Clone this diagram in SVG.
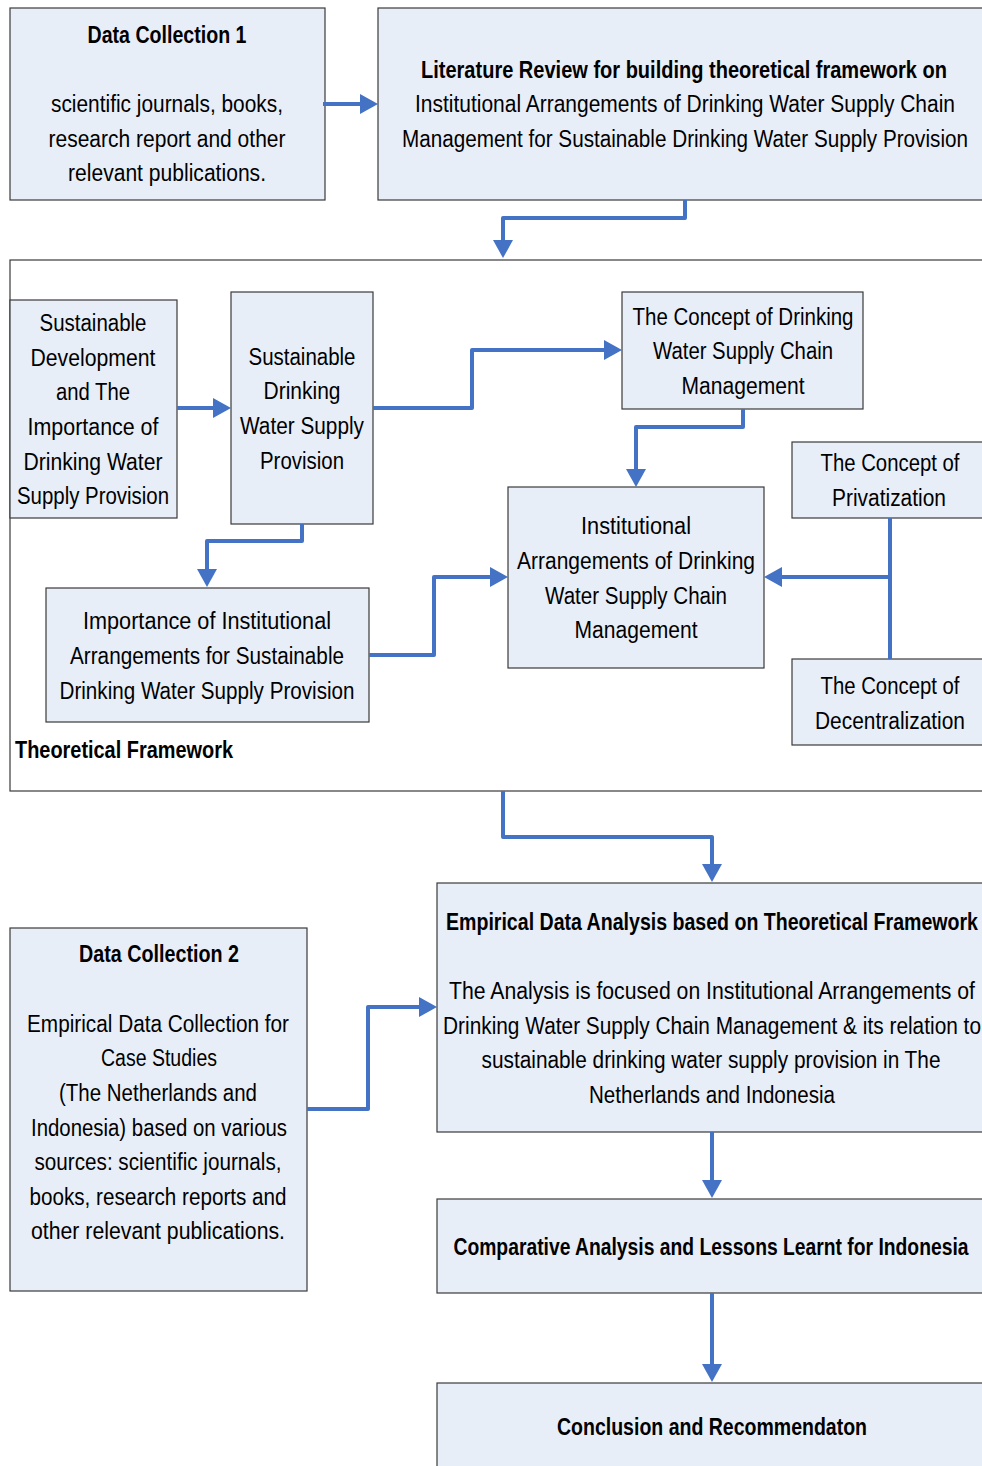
<svg xmlns="http://www.w3.org/2000/svg" width="982" height="1466" viewBox="0 0 982 1466">
  <style>
    .box { fill: #e8eef8; stroke: #3a3a3a; stroke-width: 1.2; }
    .frame { fill: #ffffff; stroke: #3a3a3a; stroke-width: 1.2; }
    .t { font-family: "Liberation Sans", Arial, sans-serif; font-size: 23px; fill: #000; text-anchor: middle; }
    .b { font-weight: bold; }
    .l { text-anchor: start; }
    .conn { fill: none; stroke: #4472c4; stroke-width: 4; stroke-linejoin: round; marker-end: url(#head); }
    .line { fill: none; stroke: #4472c4; stroke-width: 4; stroke-linejoin: round; }
  </style>
  <defs>
    <marker id="head" viewBox="0 0 18 20" markerWidth="18" markerHeight="20" refX="0" refY="10" orient="auto" markerUnits="userSpaceOnUse">
      <path d="M0,0 L18,10 L0,20 z" fill="#4472c4"/>
    </marker>
  </defs>
  <rect width="982" height="1466" fill="#ffffff"/>

  <g id="data-collection-1">
    <rect class="box" x="10" y="8" width="315" height="192"/>
    <text class="t b" x="167" y="43" textLength="159" lengthAdjust="spacingAndGlyphs">Data Collection 1</text>
    <text class="t" x="167" y="112" textLength="232" lengthAdjust="spacingAndGlyphs">scientific journals, books,</text>
    <text class="t" x="167" y="147" textLength="237" lengthAdjust="spacingAndGlyphs">research report and other</text>
    <text class="t" x="167" y="181" textLength="198" lengthAdjust="spacingAndGlyphs">relevant publications.</text>
  </g>

  <g id="literature-review">
    <rect class="box" x="378" y="8" width="612" height="192"/>
    <text class="t b" x="684" y="78" textLength="526" lengthAdjust="spacingAndGlyphs">Literature Review for building theoretical framework on</text>
    <text class="t" x="685" y="112" textLength="540" lengthAdjust="spacingAndGlyphs">Institutional Arrangements of Drinking Water Supply Chain</text>
    <text class="t" x="685" y="147" textLength="566" lengthAdjust="spacingAndGlyphs">Management for Sustainable Drinking Water Supply Provision</text>
  </g>

  <g id="theoretical-framework">
    <rect class="frame" x="10" y="260" width="980" height="531"/>
    <text class="t b l" x="15" y="758" textLength="218" lengthAdjust="spacingAndGlyphs">Theoretical Framework</text>
  </g>

  <g id="sustainable-development">
    <rect class="box" x="10" y="300" width="167" height="218"/>
    <text class="t" x="93" y="331" textLength="107" lengthAdjust="spacingAndGlyphs">Sustainable</text>
    <text class="t" x="93" y="366" textLength="125" lengthAdjust="spacingAndGlyphs">Development</text>
    <text class="t" x="93" y="400" textLength="74" lengthAdjust="spacingAndGlyphs">and The</text>
    <text class="t" x="93" y="435" textLength="131" lengthAdjust="spacingAndGlyphs">Importance of</text>
    <text class="t" x="93" y="470" textLength="139" lengthAdjust="spacingAndGlyphs">Drinking Water</text>
    <text class="t" x="93" y="504" textLength="152" lengthAdjust="spacingAndGlyphs">Supply Provision</text>
  </g>

  <g id="sustainable-dwsp">
    <rect class="box" x="231" y="292" width="142" height="232"/>
    <text class="t" x="302" y="365" textLength="107" lengthAdjust="spacingAndGlyphs">Sustainable</text>
    <text class="t" x="302" y="399" textLength="77" lengthAdjust="spacingAndGlyphs">Drinking</text>
    <text class="t" x="302" y="434" textLength="124" lengthAdjust="spacingAndGlyphs">Water Supply</text>
    <text class="t" x="302" y="469" textLength="84" lengthAdjust="spacingAndGlyphs">Provision</text>
  </g>

  <g id="concept-dwscm">
    <rect class="box" x="622" y="292" width="241" height="117"/>
    <text class="t" x="743" y="325" textLength="221" lengthAdjust="spacingAndGlyphs">The Concept of Drinking</text>
    <text class="t" x="743" y="359" textLength="180" lengthAdjust="spacingAndGlyphs">Water Supply Chain</text>
    <text class="t" x="743" y="394" textLength="123" lengthAdjust="spacingAndGlyphs">Management</text>
  </g>

  <g id="concept-privatization">
    <rect class="box" x="792" y="442" width="198" height="76"/>
    <text class="t" x="890" y="471" textLength="139" lengthAdjust="spacingAndGlyphs">The Concept of</text>
    <text class="t" x="889" y="506" textLength="114" lengthAdjust="spacingAndGlyphs">Privatization</text>
  </g>

  <g id="institutional-arrangements">
    <rect class="box" x="508" y="487" width="256" height="181"/>
    <text class="t" x="636" y="534" textLength="110" lengthAdjust="spacingAndGlyphs">Institutional</text>
    <text class="t" x="636" y="569" textLength="238" lengthAdjust="spacingAndGlyphs">Arrangements of Drinking</text>
    <text class="t" x="636" y="604" textLength="182" lengthAdjust="spacingAndGlyphs">Water Supply Chain</text>
    <text class="t" x="636" y="638" textLength="123" lengthAdjust="spacingAndGlyphs">Management</text>
  </g>

  <g id="importance-ia">
    <rect class="box" x="46" y="588" width="323" height="134"/>
    <text class="t" x="207" y="629" textLength="248" lengthAdjust="spacingAndGlyphs">Importance of Institutional</text>
    <text class="t" x="207" y="664" textLength="274" lengthAdjust="spacingAndGlyphs">Arrangements for Sustainable</text>
    <text class="t" x="207" y="699" textLength="295" lengthAdjust="spacingAndGlyphs">Drinking Water Supply Provision</text>
  </g>

  <g id="concept-decentralization">
    <rect class="box" x="792" y="659" width="198" height="86"/>
    <text class="t" x="890" y="694" textLength="139" lengthAdjust="spacingAndGlyphs">The Concept of</text>
    <text class="t" x="890" y="729" textLength="150" lengthAdjust="spacingAndGlyphs">Decentralization</text>
  </g>

  <g id="empirical-analysis">
    <rect class="box" x="437" y="883" width="553" height="249"/>
    <text class="t b" x="712" y="930" textLength="532" lengthAdjust="spacingAndGlyphs">Empirical Data Analysis based on Theoretical Framework</text>
    <text class="t" x="712" y="999" textLength="526" lengthAdjust="spacingAndGlyphs">The Analysis is focused on  Institutional Arrangements  of</text>
    <text class="t" x="712" y="1034" textLength="538" lengthAdjust="spacingAndGlyphs">Drinking Water Supply Chain Management &amp; its relation to</text>
    <text class="t" x="711" y="1068" textLength="459" lengthAdjust="spacingAndGlyphs">sustainable drinking water supply provision in The</text>
    <text class="t" x="712" y="1103" textLength="246" lengthAdjust="spacingAndGlyphs">Netherlands and Indonesia</text>
  </g>

  <g id="data-collection-2">
    <rect class="box" x="10" y="928" width="297" height="363"/>
    <text class="t b" x="159" y="962" textLength="160" lengthAdjust="spacingAndGlyphs">Data Collection 2</text>
    <text class="t" x="158" y="1032" textLength="262" lengthAdjust="spacingAndGlyphs">Empirical Data Collection for</text>
    <text class="t" x="159" y="1066" textLength="116" lengthAdjust="spacingAndGlyphs">Case Studies</text>
    <text class="t" x="158" y="1101" textLength="198" lengthAdjust="spacingAndGlyphs">(The Netherlands and</text>
    <text class="t" x="159" y="1136" textLength="256" lengthAdjust="spacingAndGlyphs">Indonesia) based on various</text>
    <text class="t" x="158" y="1170" textLength="247" lengthAdjust="spacingAndGlyphs">sources: scientific journals,</text>
    <text class="t" x="158" y="1205" textLength="257" lengthAdjust="spacingAndGlyphs">books, research reports and</text>
    <text class="t" x="158" y="1239" textLength="254" lengthAdjust="spacingAndGlyphs">other relevant publications.</text>
  </g>

  <g id="comparative-analysis">
    <rect class="box" x="437" y="1199" width="553" height="94"/>
    <text class="t b" x="711" y="1255" textLength="515" lengthAdjust="spacingAndGlyphs">Comparative Analysis and Lessons Learnt for Indonesia</text>
  </g>

  <g id="conclusion">
    <rect class="box" x="437" y="1383" width="553" height="90"/>
    <text class="t b" x="712" y="1435" textLength="310" lengthAdjust="spacingAndGlyphs">Conclusion and Recommendaton</text>
  </g>

  <g id="connectors">
    <path class="conn" d="M323,104 H360"/>
    <path class="conn" d="M685,200 V218 H503 V240"/>
    <path class="conn" d="M177,408 H213"/>
    <path class="conn" d="M373,408 H472 V350 H604"/>
    <path class="conn" d="M743,409 V427 H636 V469"/>
    <path class="conn" d="M302,524 V541 H207 V569"/>
    <path class="conn" d="M369,655 H434 V577 H490"/>
    <path class="line" d="M890,518 V659"/>
    <path class="conn" d="M890,577 H782"/>
    <path class="conn" d="M503,791 V837 H712 V864"/>
    <path class="conn" d="M307,1109 H368 V1007 H419"/>
    <path class="conn" d="M712,1132 V1180"/>
    <path class="conn" d="M712,1293 V1364"/>
  </g>
</svg>
